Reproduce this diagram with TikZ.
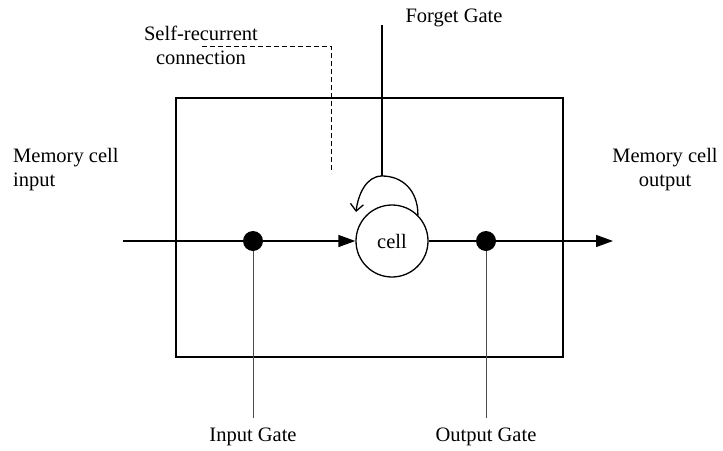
\documentclass[tikz,border=0pt]{standalone}
\usepackage{fontspec}
\setmainfont{Liberation Serif}
\usetikzlibrary{arrows.meta}
\begin{document}
\begin{tikzpicture}[x=1pt,y=-1pt,
  lbl/.style={font=\fontsize{20.5}{24}\selectfont, inner sep=0pt},
  mainline/.style={line width=1.4pt},
  gateline/.style={line width=0.9pt, draw=black!70},
  dotnode/.style={circle, fill=black, minimum size=20pt, inner sep=0pt},
  fillarrow/.style={-{Triangle[length=17pt,width=12pt]}},
]
\useasboundingbox (0,0) rectangle (723,450);
% box
\node[draw, line width=1.4pt, minimum width=387pt, minimum height=259pt, inner sep=0pt] (box) at (369.5,227.5) {};
% cell and gates
\node[draw, circle, line width=1.3pt, minimum size=72pt, inner sep=0pt, font=\fontsize{20.5}{24}\selectfont] (cell) at (392,241) {cell};
\node[dotnode] (indot) at (253,241) {};
\node[dotnode] (outdot) at (486,241) {};
\coordinate (instart) at (123,241);
\coordinate (outend) at (613,241);
\coordinate (ingbot) at (253,418);
\coordinate (outgbot) at (486,418);
\coordinate (fgtop) at (382,25);
\coordinate (looptop) at (382,176);
\coordinate (dashA) at (202,46);
\coordinate (dashB) at (331,46);
\coordinate (dashC) at (331,173);
% lines
\draw[mainline] (instart) -- (indot);
\draw[mainline, fillarrow] (indot) -- (cell.west);
\draw[mainline] (cell.east) -- (outdot);
\draw[mainline, fillarrow] (outdot) -- (outend);
\draw[gateline] (indot) -- (ingbot);
\draw[gateline] (outdot) -- (outgbot);
\draw[mainline] (fgtop) -- (looptop);
\draw[line width=1.3pt, -{Straight Barb[length=7pt,width=13pt]}] (cell.45) .. controls (418,190) and (402,176) .. (looptop) .. controls (366,176) and (358,195) .. (356,212);
\draw[line width=0.9pt, dash pattern=on 5pt off 3pt] (dashA) -- (dashB) -- (dashC);
% labels
\node[lbl, align=center] (selfrec) at (201,45) {Self-recurrent\\connection};
\node[lbl] (forget) at (454,18) {Forget Gate};
\node[lbl, align=left, anchor=west] (mcin) at (13,170) {Memory cell\\input};
\node[lbl, align=center] (mcout) at (665,170) {Memory cell\\output};
\node[lbl] (ingate) at (253,437) {Input Gate};
\node[lbl] (outgate) at (486,437) {Output Gate};
\end{tikzpicture}
\end{document}
